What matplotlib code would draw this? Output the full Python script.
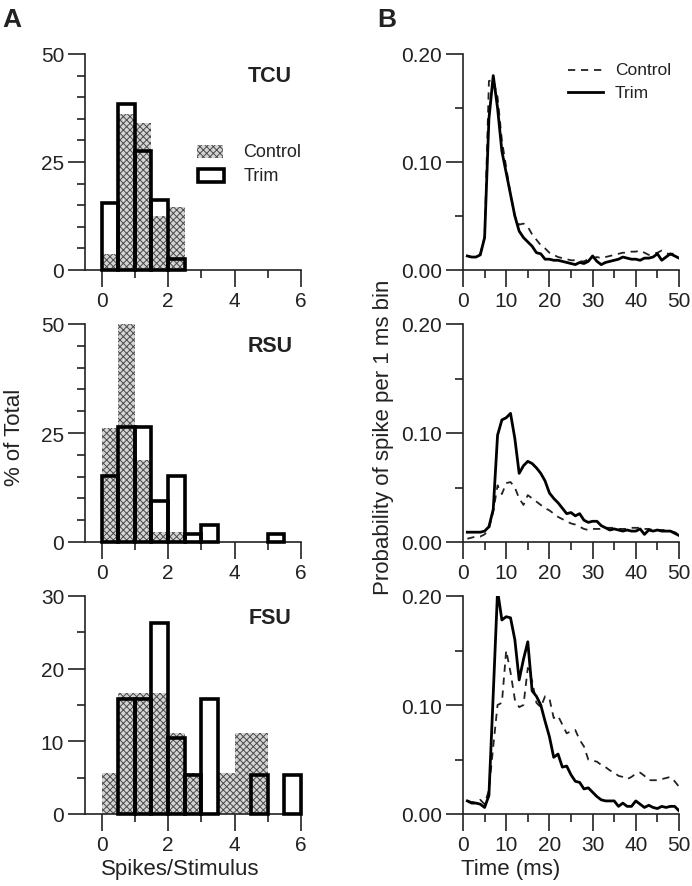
import numpy as np
import matplotlib
matplotlib.use('Agg')
import matplotlib.pyplot as plt
from matplotlib.patches import Rectangle

plt.rcParams['font.family'] = ['Liberation Sans', 'DejaVu Sans']
plt.rcParams['hatch.linewidth'] = 0.7

INK = '#222222'

# histogram bins (spikes/stimulus), 0.5 wide
bin_edges = np.arange(0, 6, 0.5)

# % of total per bin
tcu_control = [3.7, 36.0, 34.0, 12.5, 14.5, 0, 0, 0, 0, 0, 0, 0]
tcu_trim = [15.4, 38.5, 27.5, 16.2, 2.6, 0, 0, 0, 0, 0, 0, 0]
rsu_control = [26.1, 50.0, 18.8, 2.2, 2.2, 0, 0, 0, 0, 0, 0, 0]
rsu_trim = [15.1, 26.4, 26.4, 9.4, 15.1, 1.9, 3.8, 0, 0, 0, 1.9, 0]
fsu_control = [5.6, 16.7, 16.7, 16.7, 11.1, 5.6, 0, 5.6, 11.1, 11.1, 0, 0]
fsu_trim = [0, 15.8, 15.8, 26.3, 10.5, 5.3, 15.8, 0, 0, 5.3, 0, 5.3]

# PSTH, 1 ms bins
time_ms = np.arange(1, 51)

tcu_psth_control = [0.013, 0.012, 0.012, 0.015, 0.030, 0.175, 0.176, 0.160, 0.120, 0.095,
                    0.070, 0.050, 0.042, 0.043, 0.040, 0.033, 0.028, 0.023, 0.020, 0.016,
                    0.014, 0.012, 0.011, 0.010, 0.009, 0.009, 0.008, 0.008, 0.010, 0.011,
                    0.012, 0.011, 0.012, 0.013, 0.014, 0.015, 0.016, 0.016, 0.017, 0.017,
                    0.018, 0.016, 0.014, 0.015, 0.016, 0.018, 0.016, 0.014, 0.016, 0.017]
tcu_psth_trim = [0.013, 0.012, 0.012, 0.014, 0.030, 0.140, 0.180, 0.150, 0.110, 0.090,
                 0.070, 0.050, 0.036, 0.030, 0.026, 0.022, 0.016, 0.015, 0.010, 0.010,
                 0.009, 0.009, 0.008, 0.007, 0.006, 0.005, 0.007, 0.006, 0.008, 0.013,
                 0.008, 0.005, 0.007, 0.008, 0.009, 0.010, 0.012, 0.011, 0.010, 0.010,
                 0.009, 0.011, 0.011, 0.012, 0.015, 0.009, 0.012, 0.015, 0.013, 0.011]

rsu_psth_control = [0.003, 0.004, 0.005, 0.005, 0.007, 0.012, 0.028, 0.052, 0.044, 0.054,
                    0.055, 0.050, 0.040, 0.034, 0.043, 0.040, 0.037, 0.034, 0.031, 0.029,
                    0.026, 0.023, 0.021, 0.019, 0.017, 0.016, 0.014, 0.012, 0.011, 0.012,
                    0.012, 0.012, 0.013, 0.013, 0.013, 0.012, 0.012, 0.012, 0.013, 0.013,
                    0.013, 0.012, 0.012, 0.011, 0.011, 0.011, 0.011, 0.010, 0.009, 0.007]
rsu_psth_trim = [0.009, 0.009, 0.009, 0.009, 0.010, 0.014, 0.030, 0.098, 0.112, 0.114,
                 0.118, 0.095, 0.063, 0.070, 0.074, 0.072, 0.068, 0.063, 0.056, 0.045,
                 0.040, 0.036, 0.031, 0.026, 0.027, 0.024, 0.026, 0.020, 0.018, 0.019,
                 0.019, 0.015, 0.013, 0.011, 0.012, 0.011, 0.010, 0.011, 0.010, 0.010,
                 0.012, 0.007, 0.011, 0.010, 0.011, 0.010, 0.010, 0.010, 0.008, 0.006]

fsu_psth_control = [0.012, 0.011, 0.011, 0.013, 0.009, 0.022, 0.062, 0.100, 0.102, 0.150,
                    0.130, 0.105, 0.098, 0.100, 0.134, 0.122, 0.102, 0.098, 0.108, 0.106,
                    0.088, 0.090, 0.082, 0.074, 0.076, 0.077, 0.068, 0.062, 0.050, 0.049,
                    0.048, 0.045, 0.043, 0.040, 0.038, 0.035, 0.034, 0.032, 0.034, 0.037,
                    0.038, 0.035, 0.031, 0.031, 0.031, 0.032, 0.033, 0.034, 0.030, 0.025]
fsu_psth_trim = [0.012, 0.010, 0.010, 0.009, 0.006, 0.017, 0.110, 0.205, 0.178, 0.181,
                 0.180, 0.160, 0.123, 0.142, 0.158, 0.113, 0.108, 0.100, 0.085, 0.071,
                 0.052, 0.055, 0.043, 0.044, 0.036, 0.030, 0.029, 0.023, 0.024, 0.020,
                 0.016, 0.013, 0.012, 0.012, 0.012, 0.007, 0.010, 0.007, 0.007, 0.012,
                 0.009, 0.006, 0.008, 0.006, 0.005, 0.007, 0.006, 0.007, 0.007, 0.003]

cell_types = ['TCU', 'RSU', 'FSU']
hist_control = [tcu_control, rsu_control, fsu_control]
hist_trim = [tcu_trim, rsu_trim, fsu_trim]
hist_ylims = [50, 50, 30]
hist_yticks = [[0, 25, 50], [0, 25, 50], [0, 10, 20, 30]]
psth_control = [tcu_psth_control, rsu_psth_control, fsu_psth_control]
psth_trim = [tcu_psth_trim, rsu_psth_trim, fsu_psth_trim]

fig = plt.figure(figsize=(6.92, 8.87), dpi=100)

# rows: (bottom, height) in figure fraction
rows = [(1 - 271 / 887, 216 / 887), (1 - 543 / 887, 218 / 887), (1 - 815 / 887, 218 / 887)]
left_x, right_x, ax_w = 85 / 692, 463 / 692, 216 / 692

DASH = (0, (4, 3.2))
HATCH_FACE, HATCH_INK, HATCH = '#d4d4d4', '#4a4a4a', 'xxxxx'


def style_axes(ax):
    for side in ('top', 'right'):
        ax.spines[side].set_visible(False)
    for side in ('left', 'bottom'):
        ax.spines[side].set_linewidth(1.2)
        ax.spines[side].set_color(INK)
    ax.tick_params(which='major', length=12, width=1.2, color=INK,
                   labelsize=15, labelcolor=INK, pad=3)
    ax.tick_params(which='minor', length=6, width=1.2, color=INK)


for i, (bottom, height) in enumerate(rows):
    # --- A: histograms ---
    ax = fig.add_axes([left_x, bottom, ax_w, height])
    ctrl = np.array(hist_control[i])
    trim = np.array(hist_trim[i])
    m = ctrl > 0
    ax.bar(bin_edges[m], ctrl[m], width=0.5, align='edge', facecolor=HATCH_FACE,
           edgecolor=HATCH_INK, linewidth=0, hatch=HATCH, zorder=2, clip_on=False)
    m = trim > 0
    ax.bar(bin_edges[m], trim[m], width=0.5, align='edge', fill=False,
           edgecolor='black', linewidth=2.6, joinstyle='miter', zorder=3, clip_on=False)
    ax.set_xlim(-0.5, 6)
    ax.set_ylim(0, hist_ylims[i])
    ax.set_xticks([0, 2, 4, 6])
    ax.set_xticks([1, 3, 5], minor=True)
    ax.set_yticks(hist_yticks[i])
    ax.set_yticks([v for v in np.arange(0, hist_ylims[i] + 1, 5) if v not in hist_yticks[i]], minor=True)
    style_axes(ax)
    ax.text(5.07, 0.9, cell_types[i], transform=ax.get_xaxis_transform(),
            ha='center', va='center', fontsize=15.5, fontweight='bold', color=INK)

    if i == 0:
        ax.add_patch(Rectangle((2.88, 25.9), 0.78, 3.1, facecolor=HATCH_FACE,
                               edgecolor=HATCH_INK, linewidth=0, hatch=HATCH))
        ax.add_patch(Rectangle((2.90, 20.4), 0.78, 2.9, fill=False, edgecolor='black',
                               linewidth=2.6, joinstyle='miter'))
        ax.text(4.27, 27.4, 'Control', fontsize=13, va='center', color=INK)
        ax.text(4.27, 21.8, 'Trim', fontsize=13, va='center', color=INK)

    # --- B: PSTHs ---
    bx = fig.add_axes([right_x, bottom, ax_w, height])
    bx.plot(time_ms, psth_control[i], color=INK, linewidth=1.3, linestyle=DASH)
    bx.plot(time_ms, psth_trim[i], color='black', linewidth=2.0)
    bx.set_xlim(0, 50)
    bx.set_ylim(0, 0.2)
    bx.set_xticks(np.arange(0, 51, 10))
    bx.set_xticks(np.arange(5, 50, 10), minor=True)
    bx.set_yticks([0, 0.1, 0.2])
    bx.set_yticks([0.05, 0.15], minor=True)
    bx.set_yticklabels(['0.00', '0.10', '0.20'])
    style_axes(bx)

    if i == 0:
        bx.plot([24.2, 32.3], [0.1855, 0.1855], color=INK, linewidth=1.3, linestyle=DASH)
        bx.plot([24.2, 32.3], [0.1645, 0.1645], color='black', linewidth=2.0)
        bx.text(35.1, 0.1855, 'Control', fontsize=12.5, va='center', color=INK)
        bx.text(35.1, 0.1645, 'Trim', fontsize=12.5, va='center', color=INK)

fig.text(2 / 692, 1 - 8 / 887, 'A', fontsize=19, fontweight='bold', va='top', ha='left', color=INK)
fig.text(377 / 692, 1 - 8 / 887, 'B', fontsize=19, fontweight='bold', va='top', ha='left', color=INK)
fig.text(15 / 692, 1 - 437 / 887, '% of Total', rotation=90, fontsize=16,
         ha='center', va='center', color=INK)
fig.text(384 / 692, 1 - 437 / 887, 'Probability of spike per 1 ms bin', rotation=90,
         fontsize=16, ha='center', va='center', color=INK)
fig.text(180 / 692, 1 - 870 / 887, 'Spikes/Stimulus', fontsize=16, ha='center', va='center', color=INK)
fig.text(511 / 692, 1 - 870 / 887, 'Time (ms)', fontsize=16, ha='center', va='center', color=INK)

fig.savefig('out.png', dpi=100)
